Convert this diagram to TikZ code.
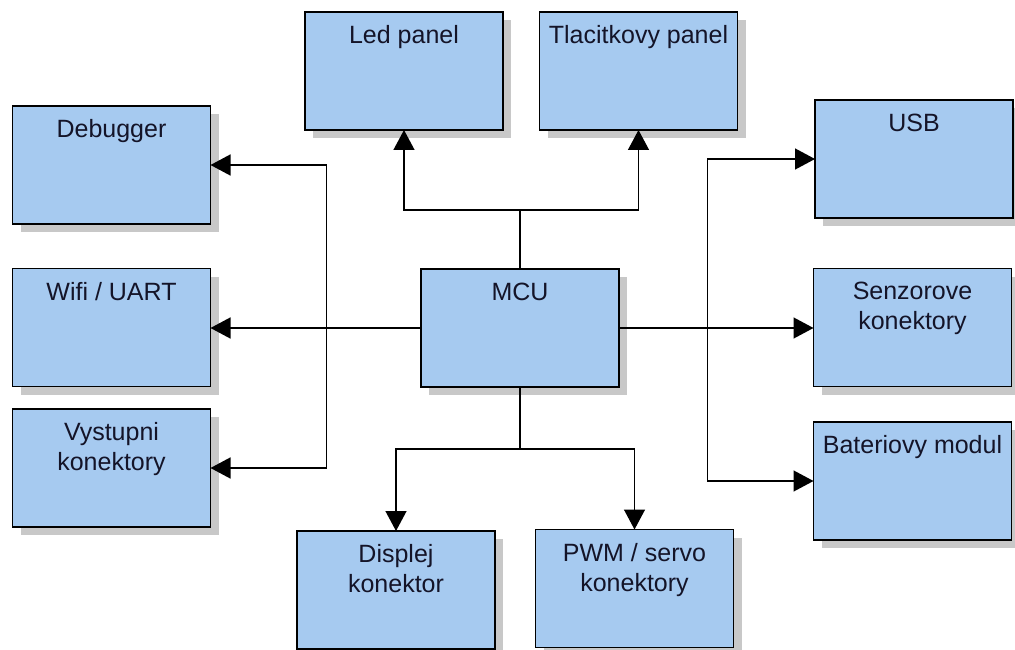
\documentclass[tikz,border=0pt]{standalone}
\usepackage{fontspec}
\setmainfont{Liberation Sans}
\usetikzlibrary{arrows.meta,shadows}
\definecolor{boxblue}{HTML}{A6CAF0}
\definecolor{shadowgray}{HTML}{C8C8C8}
\definecolor{txtcol}{HTML}{141428}
\begin{document}
\begin{tikzpicture}[x=1pt,y=-1pt,
  box/.style={draw=black, line width=1.4pt, fill=boxblue,
    minimum width=198pt, minimum height=118pt, inner sep=0pt, outer sep=0pt,
    drop shadow={shadow xshift=8pt, shadow yshift=-8pt, fill=shadowgray, opacity=1}},
  txt/.style={anchor=north, inner sep=0pt, align=center, text=txtcol,
    font=\fontsize{25}{30}\selectfont},
  conn/.style={draw=black, line width=1.4pt},
  arr/.style={conn, -{Triangle[length=20pt,width=21pt]}}]
\useasboundingbox (0,0) rectangle (1015,650);
\clip (0,0) rectangle (1015,650);
\fill[white] (0,0) rectangle (1015,650);

% boxes
\node[box] (dbg)  at (111.5,165)   {};
\node[box] (wifi) at (111.5,327.5) {};
\node[box] (vyst) at (111.5,468)   {};
\node[box] (led)  at (404,71)      {};
\node[box] (tlac) at (638.5,71)    {};
\node[box] (usb)  at (914,159)     {};
\node[box] (senz) at (912.5,327.5) {};
\node[box] (bat)  at (912.5,481)   {};
\node[box] (mcu)  at (520,328)     {};
\node[box] (disp) at (396,590)     {};
\node[box] (pwm)  at (634.5,588.5) {};

% texts
\node[txt] (tdbg)  at ([yshift=-13.5pt]dbg.north)  {Debugger};
\node[txt] (twifi) at ([yshift=-13.5pt]wifi.north) {Wifi / UART};
\node[txt] (tvyst) at ([yshift=-13.5pt]vyst.north) {Vystupni\\konektory};
\node[txt] (tled)  at ([yshift=-13.5pt]led.north)  {Led panel};
\node[txt] (ttlac) at ([yshift=-13.5pt]tlac.north) {Tlacitkovy panel};
\node[txt] (tusb)  at ([yshift=-13.5pt]usb.north)  {USB};
\node[txt] (tsenz) at ([yshift=-13.5pt]senz.north) {Senzorove\\konektory};
\node[txt] (tbat)  at ([yshift=-13.5pt]bat.north)  {Bateriovy modul};
\node[txt] (tmcu)  at ([yshift=-13.5pt]mcu.north)  {MCU};
\node[txt] (tdisp) at ([yshift=-13.5pt]disp.north) {Displej\\konektor};
\node[txt] (tpwm)  at ([yshift=-13.5pt]pwm.north)  {PWM / servo\\konektory};

% junctions
\coordinate (jl) at (326.7,328);
\coordinate (jr) at (707.5,328);
\coordinate (jt) at (520,210);
\coordinate (jb) at (520,449);

% left connectors
\draw[arr] (mcu.west) -- (mcu.west -| wifi.east);
\draw[arr] (jl) |- (dbg.east);
\draw[arr] (jl) |- (vyst.east);
% right connectors
\draw[arr] (mcu.east) -- (mcu.east -| senz.west);
\draw[arr] (jr) |- (usb.west);
\draw[arr] (jr) |- (bat.west);
% top connectors
\draw[conn] (mcu.north) -- (jt);
\draw[arr] (jt) -| (led.south);
\draw[arr] (jt) -| (tlac.south);
% bottom connectors
\draw[conn] (mcu.south) -- (jb);
\draw[arr] (jb) -| (disp.north);
\draw[arr] (jb) -| (pwm.north);
\end{tikzpicture}
\end{document}
